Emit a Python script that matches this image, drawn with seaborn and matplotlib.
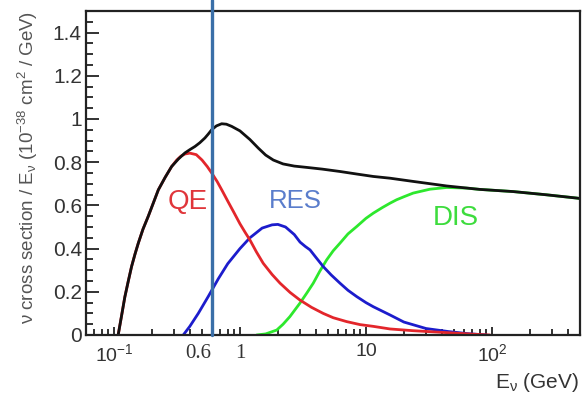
import numpy as np
import pandas as pd
import matplotlib
matplotlib.use("Agg")
import matplotlib.pyplot as plt
import matplotlib.ticker as mticker
import seaborn as sns

# ---------------- data ----------------
E_total = [0.108, 0.115, 0.122, 0.13, 0.138, 0.147, 0.156, 0.17, 0.187, 0.205,
           0.225, 0.255, 0.287, 0.325, 0.366, 0.40, 0.44, 0.48, 0.527, 0.56,
           0.596, 0.65, 0.716, 0.78, 0.859, 1.0, 1.2, 1.4, 1.6, 1.84, 2.2, 2.7,
           3.38, 4.5, 6.22, 8.5, 11.43, 15.5, 23.7, 43.7, 80.3, 147.6, 271.7,
           470, 500]
xs_total = [0.0, 0.09, 0.176, 0.25, 0.317, 0.375, 0.425, 0.49, 0.549, 0.61,
            0.672, 0.73, 0.78, 0.815, 0.843, 0.858, 0.873, 0.89, 0.912, 0.93,
            0.95, 0.968, 0.978, 0.976, 0.966, 0.945, 0.905, 0.865, 0.833, 0.81,
            0.792, 0.782, 0.776, 0.768, 0.757, 0.745, 0.734, 0.726, 0.711, 0.69,
            0.674, 0.664, 0.649, 0.634, 0.632]

E_qe = [0.108, 0.115, 0.122, 0.13, 0.138, 0.147, 0.156, 0.17, 0.187, 0.205,
        0.225, 0.255, 0.287, 0.315, 0.34, 0.366, 0.40, 0.45, 0.50, 0.55, 0.60,
        0.66, 0.72, 0.80, 0.90, 1.0, 1.1, 1.2, 1.35, 1.53, 1.8, 2.08, 2.5, 2.99,
        3.7, 4.58, 5.5, 7.03, 9.0, 11.43, 15.5, 23.6, 43.7, 70, 96.4]
xs_qe = [0.0, 0.09, 0.176, 0.25, 0.317, 0.375, 0.425, 0.49, 0.549, 0.61,
         0.672, 0.73, 0.78, 0.81, 0.828, 0.838, 0.842, 0.835, 0.81, 0.78, 0.748,
         0.71, 0.67, 0.62, 0.565, 0.515, 0.475, 0.44, 0.385, 0.332, 0.28, 0.24,
         0.197, 0.162, 0.128, 0.10, 0.08, 0.062, 0.048, 0.04, 0.028, 0.02, 0.011,
         0.004, 0.0]

E_res = [0.355, 0.40, 0.467, 0.56, 0.673, 0.80, 1.0, 1.2, 1.5, 1.8, 2.0, 2.3,
         2.7, 3.0, 3.3, 3.6, 4.0, 4.58, 5.3, 6.22, 7.2, 8.44, 10.0, 11.43, 15.5,
         20.0, 30.0, 45.0, 65.0, 90.7]
xs_res = [0.0, 0.04, 0.10, 0.178, 0.26, 0.33, 0.40, 0.45, 0.495, 0.51, 0.512,
          0.50, 0.465, 0.43, 0.41, 0.394, 0.36, 0.317, 0.278, 0.24, 0.207, 0.178,
          0.15, 0.131, 0.093, 0.06, 0.03, 0.016, 0.006, 0.0]

E_dis = [1.357, 1.6, 1.96, 2.2, 2.49, 2.99, 3.4, 3.82, 4.3, 4.88, 5.5, 6.22,
         7.2, 8.44, 10.0, 11.43, 13.5, 15.5, 17.5, 20.0, 23.7, 32.2, 43.7, 63.0,
         80.3, 147.6, 271.7, 470, 500]
xs_dis = [0.0, 0.005, 0.023, 0.05, 0.085, 0.147, 0.195, 0.24, 0.295, 0.348,
          0.39, 0.425, 0.468, 0.502, 0.54, 0.564, 0.59, 0.61, 0.626, 0.64, 0.657,
          0.675, 0.683, 0.68, 0.674, 0.664, 0.649, 0.634, 0.632]

cut_energy = 0.6

x_ticks = [0.1, 1, 10, 100]
x_ticklabels = [r"$10^{-1}$", "", "10", r"$10^{2}$"]
y_ticks = [0, 0.2, 0.4, 0.6, 0.8, 1.0, 1.2, 1.4]

labels = {"QE": (0.387, 0.614), "RES": (2.73, 0.621), "DIS": (51.8, 0.542)}

# ---------------- style ----------------
sns.set_theme(style="white")
plt.rcParams["font.family"] = ["Liberation Sans", "DejaVu Sans"]
plt.rcParams["mathtext.fontset"] = "custom"
plt.rcParams["mathtext.rm"] = "Liberation Sans"
plt.rcParams["mathtext.it"] = "Liberation Sans:italic"
plt.rcParams["mathtext.default"] = "regular"

col_tot = "#111111"
col_qe = "#e3262b"
col_res = "#1c1ccc"
col_dis = "#2de82d"
col_line = "#3a6fa8"

frames = []
for name, ex, ys in [("DIS", E_dis, xs_dis), ("RES", E_res, xs_res),
                     ("QE", E_qe, xs_qe), ("Total", E_total, xs_total)]:
    frames.append(pd.DataFrame({"E": ex, "xs": ys, "channel": name}))
df = pd.concat(frames, ignore_index=True)

fig, ax = plt.subplots(figsize=(5.88, 3.96), dpi=100)
fig.subplots_adjust(left=86/588, right=580/588, bottom=1-335/396, top=1-11/396)

palette = {"DIS": col_dis, "RES": col_res, "QE": col_qe, "Total": col_tot}
sns.lineplot(data=df, x="E", y="xs", hue="channel", palette=palette,
             hue_order=["DIS", "RES", "QE", "Total"], sort=False,
             linewidth=2.0, legend=False, ax=ax, estimator=None)
for ln in ax.lines:
    ln.set_solid_joinstyle("round")
    ln.set_solid_capstyle("round")

ax.set_xscale("log")
ax.set_xlim(0.06, 500)
ax.set_ylim(0, 1.5)

ax.set_xticks(x_ticks)
ax.set_xticklabels(x_ticklabels)
ax.xaxis.set_minor_locator(mticker.LogLocator(base=10, subs=np.arange(2, 10)))
ax.xaxis.set_minor_formatter(mticker.NullFormatter())
ax.set_yticks(y_ticks)
ax.yaxis.set_major_formatter(mticker.FuncFormatter(lambda v, p: f"{v:g}"))
ax.yaxis.set_minor_locator(mticker.MultipleLocator(0.05))

ax.tick_params(axis="both", which="both", direction="in", colors="#222222",
               labelcolor="#333333", width=1.3)
ax.tick_params(axis="y", which="major", length=9, labelsize=15, pad=3)
ax.tick_params(axis="y", which="minor", length=5)
ax.tick_params(axis="x", which="major", length=6, labelsize=14, pad=6)
ax.tick_params(axis="x", which="minor", length=4)
ax.tick_params(top=False, right=False, which="both")
ax.tick_params(left=True, bottom=True, which="both")

for s in ax.spines.values():
    s.set_color("#222222")
    s.set_linewidth(1.6)

ax.set_xlabel("")
ax.set_ylabel("")

# cut line at 0.6 GeV, extending to the figure top
ax.axvline(cut_energy, ymin=0, ymax=335/324, color=col_line, linewidth=2.4,
           clip_on=False, zorder=5)
xt = ax.get_xaxis_transform()
ax.text(cut_energy * 0.99, -0.027, "0.6", transform=xt, ha="right", va="top",
        fontsize=15, family="Liberation Serif", color="#333333")
ax.text(1.0, -0.027, "1", transform=xt, ha="center", va="top",
        fontsize=15, family="Liberation Serif", color="#333333")

ax.text(*labels["QE"], "QE", color="#e0353a", fontsize=20, ha="center",
        va="center", zorder=3)
ax.text(*labels["RES"], "RES", color="#5a7dcc", fontsize=18.5, ha="center",
        va="center", zorder=3)
ax.text(*labels["DIS"], "DIS", color="#3ddc3d", fontsize=20, ha="center",
        va="center", zorder=3)

fig.text(28/588, 1-167/396,
         r"$\nu$ cross section / E$_{\nu}$ (10$^{-38}$ cm$^{2}$ / GeV)",
         rotation=90, ha="center", va="center", fontsize=13.5, color="#555555")
fig.text(579/588, 1-383/396, r"E$_{\nu}$ (GeV)", ha="right", va="center",
         fontsize=15, color="#333333")

fig.savefig("out.png", dpi=100)
